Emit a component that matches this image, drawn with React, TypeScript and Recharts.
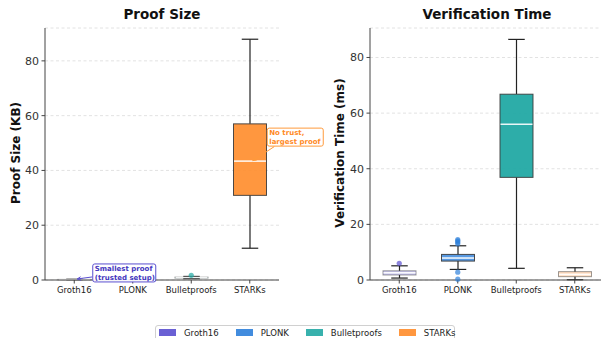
import React from 'react';
import { ComposedChart, Bar, XAxis, YAxis, CartesianGrid, ReferenceDot } from 'recharts';

const categories = ['Groth16', 'PLONK', 'Bulletproofs', 'STARKs'];
const colors = ['#5A4FCF', '#2E80DA', '#22A9A4', '#FF8C2A'];

// proof size (KB): whisker low, Q1, median, Q3, whisker high
const proofLow = [0.1, 0.3, 0.5, 11.6];
const proofQ1 = [0.17, 0.38, 0.7, 30.9];
const proofMedian = [0.19, 0.45, 0.9, 43.4];
const proofQ3 = [0.22, 0.52, 1.05, 57.0];
const proofHigh = [0.3, 0.62, 1.3, 87.9];
const proofAlpha = [0.3, 0.3, 0.3, 0.9];
const proofOutlierCats = ['Bulletproofs'];
const proofOutlierVals = [1.7];

// verification time (ms)
const verifyLow = [0.7, 3.8, 4.2, 0.1];
const verifyQ1 = [1.8, 6.8, 36.9, 1.2];
const verifyMedian = [2.6, 7.9, 56.0, 2.0];
const verifyQ3 = [3.3, 9.2, 66.8, 3.0];
const verifyHigh = [5.1, 12.3, 86.5, 4.4];
const verifyAlpha = [0.3, 0.8, 0.95, 0.3];
const verifyOutlierCats = ['Groth16', 'PLONK', 'PLONK', 'PLONK', 'PLONK', 'PLONK', 'PLONK'];
const verifyOutlierVals = [6.0, 13.0, 13.6, 14.1, 14.5, 2.8, 0.3];

const yTicks = [0, 20, 40, 60, 80];

const FONT = '"DejaVu Sans", sans-serif';

const buildRows = (low: number[], q1: number[], med: number[], q3: number[], high: number[], alpha: number[]) =>
  categories.map((name, i) => ({
    name,
    range: [low[i], high[i]],
    low: low[i],
    q1: q1[i],
    med: med[i],
    q3: q3[i],
    high: high[i],
    color: colors[i],
    alpha: alpha[i],
  }));

const buildOutliers = (cats: string[], vals: number[]) =>
  cats.map((name, i) => ({ name, value: vals[i], color: colors[categories.indexOf(name)] }));

const proofRows = buildRows(proofLow, proofQ1, proofMedian, proofQ3, proofHigh, proofAlpha);
const verifyRows = buildRows(verifyLow, verifyQ1, verifyMedian, verifyQ3, verifyHigh, verifyAlpha);
const proofOutliers = buildOutliers(proofOutlierCats, proofOutlierVals);
const verifyOutliers = buildOutliers(verifyOutlierCats, verifyOutlierVals);

// box + whiskers drawn inside the bar that spans [low, high]
const BoxShape = (props: any) => {
  const { x, y, width, height, payload } = props;
  if (x == null || y == null) return null;
  const top = Math.min(y, y + height);
  const bottom = Math.max(y, y + height);
  const span = payload.high - payload.low;
  const toY = (v: number) => (span === 0 ? bottom : bottom - ((v - payload.low) / span) * (bottom - top));
  const cx = x + width / 2;
  const cap = width / 4;
  const yq1 = toY(payload.q1);
  const yq3 = toY(payload.q3);
  const ym = toY(payload.med);
  const faded = payload.alpha < 0.5;
  return (
    <g>
      <line x1={cx} x2={cx} y1={top} y2={yq3} stroke="#222" strokeWidth={1.2} />
      <line x1={cx} x2={cx} y1={yq1} y2={bottom} stroke="#222" strokeWidth={1.2} />
      <line x1={cx - cap} x2={cx + cap} y1={top} y2={top} stroke="#222" strokeWidth={1.2} />
      <line x1={cx - cap} x2={cx + cap} y1={bottom} y2={bottom} stroke="#222" strokeWidth={1.2} />
      <rect
        x={x}
        y={yq3}
        width={width}
        height={Math.max(yq1 - yq3, 0.5)}
        fill={payload.color}
        fillOpacity={payload.alpha}
        stroke="#3a3a3a"
        strokeOpacity={faded ? 0.5 : 0.9}
        strokeWidth={1}
      />
      <line x1={x + 0.5} x2={x + width - 0.5} y1={ym} y2={ym} stroke="#fff" strokeOpacity={0.9} strokeWidth={1.6} />
    </g>
  );
};

const callout = (
  lines: string[],
  color: string,
  textColor: string,
  box: { dx: number; dy: number; w: number; h: number },
  tail: { dx: number; dy: number },
  lineTop: number
) => (p: any) => {
  const { cx, cy } = p;
  const bx = cx + box.dx;
  const by = cy + box.dy;
  const tipX = cx + 3;
  const tipY = cy - 0.5;
  const tx = cx + tail.dx;
  const ty = cy + tail.dy;
  const ang = Math.atan2(tipY - ty, tipX - tx);
  const hl = 4;
  const a1 = [tipX - hl * Math.cos(ang - 0.45), tipY - hl * Math.sin(ang - 0.45)];
  const a2 = [tipX - hl * Math.cos(ang + 0.45), tipY - hl * Math.sin(ang + 0.45)];
  return (
    <g>
      <line x1={tx} y1={ty} x2={tipX} y2={tipY} stroke={color} strokeWidth={1} />
      <polyline points={`${a1[0]},${a1[1]} ${tipX},${tipY} ${a2[0]},${a2[1]}`} fill="none" stroke={color} strokeWidth={1} />
      <rect x={bx} y={by} width={box.w} height={box.h} rx={2} fill="#fff" fillOpacity={0.92} stroke={color} strokeWidth={1} />
      {lines.map((l, i) => (
        <text
          key={l}
          x={bx + 2}
          y={by + lineTop + i * 8.4}
          dominantBaseline="central"
          fontSize={7}
          fontWeight="bold"
          fontFamily={FONT}
          fill={textColor}
        >
          {l}
        </text>
      ))}
    </g>
  );
};

interface PanelProps {
  rows: any[];
  outliers: { name: string; value: number; color: string }[];
  yMax: number;
  width: number;
  yAxisWidth: number;
  marginRight: number;
  children?: React.ReactNode;
}

const Panel: React.FC<PanelProps> = ({ rows, outliers, yMax, width, yAxisWidth, marginRight, children }) => (
  <ComposedChart width={width} height={300} data={rows} margin={{ top: 28, right: marginRight, left: 0, bottom: 0 }}>
    <CartesianGrid vertical={false} stroke="#e2e2e2" strokeDasharray="3 2.5" />
    <XAxis
      dataKey="name"
      interval={0}
      height={20}
      tickSize={3.5}
      tickMargin={3}
      axisLine={{ stroke: '#444' }}
      tickLine={{ stroke: '#444' }}
      tick={{ fontSize: 8.5, fill: '#222', fontFamily: FONT }}
    />
    <YAxis
      domain={[0, yMax]}
      ticks={yTicks}
      interval={0}
      width={yAxisWidth}
      tickSize={3.5}
      tickMargin={2.5}
      axisLine={{ stroke: '#444' }}
      tickLine={{ stroke: '#444' }}
      tick={{ fontSize: 11, fill: '#333', fontFamily: FONT }}
    />
    <Bar dataKey="range" barSize={33} shape={BoxShape} isAnimationActive={false} />
    {outliers.map((o, i) => (
      <ReferenceDot key={i} x={o.name} y={o.value} r={2.6} fill={o.color} fillOpacity={0.7} stroke="none" />
    ))}
    {children}
  </ComposedChart>
);

const Title = ({ text, left, width }: { text: string; left: number; width: number }) => (
  <div
    style={{
      position: 'absolute',
      left,
      width,
      top: 6,
      lineHeight: '16px',
      textAlign: 'center',
      fontFamily: FONT,
      fontWeight: 'bold',
      fontSize: 13.5,
      color: '#111',
    }}
  >
    {text}
  </div>
);

const YLabel = ({ text, cx, cy }: { text: string; cx: number; cy: number }) => (
  <div
    style={{
      position: 'absolute',
      left: cx,
      top: cy,
      transform: 'translate(-50%, -50%) rotate(-90deg)',
      whiteSpace: 'nowrap',
      fontFamily: FONT,
      fontWeight: 'bold',
      fontSize: 12,
      color: '#111',
    }}
  >
    {text}
  </div>
);

export default function App() {
  return (
    <div style={{ position: 'relative', width: 601, height: 338, overflow: 'hidden', background: '#fff' }}>
      <style>{'body{margin:0}'}</style>
      <div style={{ position: 'absolute', left: 0, top: 0 }}>
        <Panel rows={proofRows} outliers={proofOutliers} yMax={92} width={330} yAxisWidth={45} marginRight={51}>
          <ReferenceDot
            x="Groth16"
            y={0.2}
            r={0}
            shape={callout(
              ['Smallest proof', '(trusted setup)'],
              '#5A4FCF',
              '#4436BE',
              { dx: 18.5, dy: -15.5, w: 63, h: 18 },
              { dx: 18, dy: -2.5 },
              5.2
            )}
          />
          <ReferenceDot
            x="STARKs"
            y={43.4}
            r={0}
            shape={callout(
              ['No trust,', 'largest proof'],
              '#FF9A3C',
              '#FF8A1F',
              { dx: 17.5, dy: -33, w: 56, h: 18 },
              { dx: 24.5, dy: -14.5 },
              5
            )}
          />
        </Panel>
      </div>
      <div style={{ position: 'absolute', left: 300, top: 0 }}>
        <Panel rows={verifyRows} outliers={verifyOutliers} yMax={90.6} width={304} yAxisWidth={70} marginRight={0} />
      </div>
      <Title text="Proof Size" left={45} width={234} />
      <Title text="Verification Time" left={370} width={234} />
      <YLabel text="Proof Size (KB)" cx={15.5} cy={153} />
      <YLabel text="Verification Time (ms)" cx={340} cy={153} />
      <div
        style={{
          position: 'absolute',
          left: 155,
          top: 325,
          width: 300,
          height: 20,
          boxSizing: 'border-box',
          border: '1px solid #d0d0d0',
          borderRadius: 3,
          padding: '2px 3px',
          display: 'flex',
          alignItems: 'center',
          fontFamily: FONT,
          fontSize: 8.5,
          color: '#222',
        }}
      >
        {categories.map((c, i) => (
          <div key={c} style={{ display: 'flex', alignItems: 'center', marginRight: 17, height: 10, marginTop: -5 }}>
            <span style={{ display: 'inline-block', width: 17, height: 7, background: colors[i], opacity: 0.9, marginRight: 8 }} />
            <span>{c}</span>
          </div>
        ))}
      </div>
    </div>
  );
}
